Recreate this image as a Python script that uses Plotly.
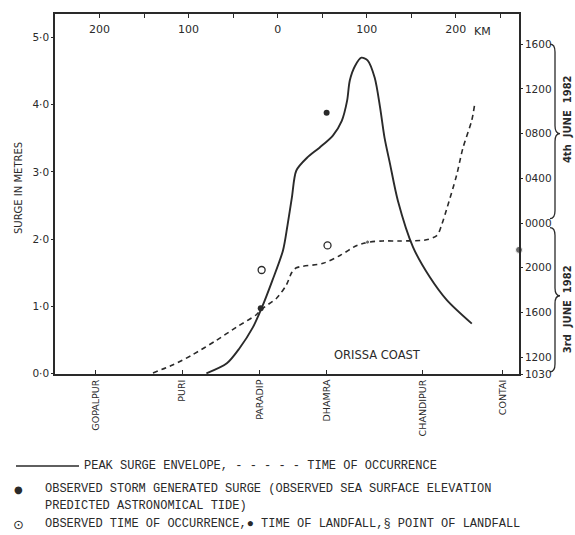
import plotly.graph_objects as go

# ---------------- data ----------------
# Peak surge envelope: distance along coast (km, landfall = 0) vs surge (m)
surge_km = [-80, -57, -43, -28, -18, -6, 6, 11, 16, 21, 33, 47, 62, 72, 78, 81, 87, 94,
            101, 109, 115, 120, 126, 135, 152, 171, 190, 218]
surge_m = [0.0, 0.15, 0.37, 0.68, 0.97, 1.38, 1.83, 2.2, 2.62, 3.02, 3.21, 3.36, 3.54, 3.76,
           4.06, 4.36, 4.58, 4.70, 4.66, 4.40, 3.96, 3.51, 3.13, 2.57, 1.88, 1.43, 1.09, 0.74]

# Time of occurrence (hours counted from 0000 of 3rd June 1982)
time_km = [-140, -118, -96, -69, -46, -24, -18, -1, 10, 16, 21, 51, 70, 89, 103, 118, 137,
           167, 179, 184, 190, 201, 208, 218, 221]
time_h = [10.6, 11.3, 12.2, 13.5, 14.7, 15.8, 16.3, 17.3, 18.5, 19.6, 20.0, 20.4, 21.1, 22.0,
          22.3, 22.4, 22.4, 22.5, 22.9, 23.8, 25.3, 28.3, 30.7, 33.2, 34.5]

obs_surge_km = [-19, 55]
obs_surge_m = [0.97, 3.88]
obs_time_km = [-18, 56]
obs_time_h = [19.8, 22.0]
landfall_time_km = [101, 271]
landfall_time_h = [22.3, 21.6]
landfall_point_km = 0

place_km = [-204, -107, -20, 55, 163, 253]
place_names = ["GOPALPUR", "PURI", "PARADIP", "DHAMRA", "CHANDIPUR", "CONTAI"]

dist_tickvals = [-200, -150, -100, -50, 0, 50, 100, 150, 200, 250]
dist_ticktext = ["200", "", "100", "", "0", "", "100", "", "200", ""]
dist_unit = "KM"

time_tickvals = [10.5, 12, 16, 20, 24, 28, 32, 36, 40]
time_ticktext = ["1030", "1200", "1600", "2000", "0000", "0400", "0800", "1200", "1600"]

surge_tickvals = [0, 1, 2, 3, 4, 5]
surge_ticktext = ["0·0", "1·0", "2·0", "3·0", "4·0", "5·0"]

X_RANGE = [-250, 271]
Y_RANGE = [-0.01, 5.35]
Y2_RANGE = [10.5, 42.7]

INK = "#2a2a2a"
FONT = "DejaVu Sans"
MONO = "Liberation Mono"

W, H = 575, 535
PLOT_L, PLOT_R, PLOT_T, PLOT_B = 55, 519, 14, 374   # page pixels of plot area

fig = go.Figure()

fig.add_trace(go.Scatter(x=surge_km, y=surge_m, mode="lines",
                         line=dict(color=INK, width=1.9, shape="spline", smoothing=0.8),
                         xaxis="x", yaxis="y", showlegend=False, hoverinfo="skip"))
fig.add_trace(go.Scatter(x=time_km, y=time_h, mode="lines",
                         line=dict(color=INK, width=1.6, dash="5px,4px", shape="spline",
                                   smoothing=0.8),
                         xaxis="x", yaxis="y2", showlegend=False, hoverinfo="skip"))
fig.add_trace(go.Scatter(x=obs_surge_km, y=obs_surge_m, mode="markers",
                         marker=dict(symbol="circle", size=6, color=INK),
                         xaxis="x", yaxis="y", showlegend=False))
fig.add_trace(go.Scatter(x=obs_time_km, y=obs_time_h, mode="markers",
                         marker=dict(symbol="circle-open", size=7, color=INK,
                                     line=dict(width=1.3, color=INK)),
                         xaxis="x", yaxis="y2", showlegend=False))
fig.add_trace(go.Scatter(x=landfall_time_km, y=landfall_time_h, mode="markers",
                         marker=dict(symbol="circle", size=[4, 7], color=INK),
                         cliponaxis=False,
                         xaxis="x", yaxis="y2", showlegend=False))
# invisible trace to carry the top distance axis
fig.add_trace(go.Scatter(x=X_RANGE, y=[None, None], mode="markers", xaxis="x2", yaxis="y",
                         showlegend=False, hoverinfo="skip"))

axis_common = dict(showline=True, linecolor=INK, linewidth=1.6, showgrid=False,
                   zeroline=False, tickcolor=INK, automargin=False)

fig.update_layout(
    width=W, height=H,
    margin=dict(l=PLOT_L, r=W - PLOT_R, t=PLOT_T, b=H - PLOT_B, autoexpand=False),
    paper_bgcolor="white", plot_bgcolor="white",
    font=dict(family=FONT, color=INK, size=10),
    xaxis=dict(range=X_RANGE, tickmode="array", tickvals=place_km, ticktext=place_names,
               tickangle=-90, ticks="inside", ticklen=4, tickwidth=1.2,
               tickfont=dict(size=9.5, family=FONT, color=INK), **axis_common),
    xaxis2=dict(range=X_RANGE, overlaying="x", side="top", tickmode="array",
                tickvals=dist_tickvals, ticktext=dist_ticktext, ticks="inside", ticklen=4,
                tickwidth=1.2, ticklabelposition="inside", ticklabelstandoff=7,
                tickfont=dict(size=11, family=FONT, color=INK), **axis_common),
    yaxis=dict(range=Y_RANGE, tickmode="array", tickvals=surge_tickvals,
               ticktext=surge_ticktext, ticks="outside", ticklen=2, tickwidth=1.2,
               tickfont=dict(size=10.5, family=FONT, color=INK), **axis_common),
    yaxis2=dict(range=Y2_RANGE, overlaying="y", side="right", tickmode="array",
                tickvals=time_tickvals, ticktext=time_ticktext, ticks="outside", ticklen=2,
                tickwidth=1.2, tickfont=dict(size=10.5, family=FONT, color=INK),
                **axis_common),
)

PLOT_W = PLOT_R - PLOT_L
PLOT_H = PLOT_B - PLOT_T


def px(xp):
    return (xp - PLOT_L) / PLOT_W


def py(yp):
    return (PLOT_B - yp) / PLOT_H


# unit for top distance axis
fig.add_annotation(text=dist_unit, xref="paper", yref="paper", x=px(472), y=py(31),
                   xanchor="left", yanchor="middle", showarrow=False,
                   font=dict(size=11, family=FONT, color=INK))
# y-axis title
fig.add_annotation(text="SURGE IN METRES", xref="paper", yref="paper", x=px(19), y=py(188),
                   xanchor="center", yanchor="middle",
                   textangle=-90, showarrow=False, font=dict(size=10, family=FONT, color=INK))
# map label
fig.add_annotation(text="ORISSA COAST", xref="x", yref="y", x=112, y=0.27, showarrow=False,
                   xanchor="center", yanchor="middle",
                   font=dict(size=11.5, family=FONT, color=INK))
# point of landfall
fig.add_annotation(text="§", xref="x", yref="y", x=landfall_point_km, y=-0.03,
                   xanchor="center", yanchor="middle",
                   showarrow=False, font=dict(size=12, family=FONT, color=INK))


# braces for dates on the right (x in paper units, y in time axis)
def brace(y_bot, y_top, y_mid, x0=px(550), x1=px(555), x2=px(560), d=0.7):
    return (f"M {x0},{y_top} Q {x1},{y_top} {x1},{y_top - d} "
            f"L {x1},{y_mid + d} Q {x1},{y_mid} {x2},{y_mid} "
            f"Q {x1},{y_mid} {x1},{y_mid - d} "
            f"L {x1},{y_bot + d} Q {x1},{y_bot} {x0},{y_bot}")


fig.add_shape(type="path", xref="paper", yref="y2", path=brace(24.4, 40, 32),
              line=dict(color=INK, width=1.3))
fig.add_shape(type="path", xref="paper", yref="y2", path=brace(10.7, 23.6, 17.5),
              line=dict(color=INK, width=1.3))
fig.add_annotation(text="<b>4th  JUNE  1982</b>", xref="paper", yref="y2", x=px(567), y=33.3,
                   xanchor="center", yanchor="middle",
                   textangle=-90, showarrow=False, font=dict(size=10, family=FONT, color=INK))
fig.add_annotation(text="<b>3rd  JUNE  1982</b>", xref="paper", yref="y2", x=px(567), y=16.3,
                   xanchor="center", yanchor="middle",
                   textangle=-90, showarrow=False, font=dict(size=10, family=FONT, color=INK))

# ---- caption text below the chart ----
cap_font = dict(size=12, family=MONO, color=INK)
fig.add_shape(type="line", xref="paper", yref="paper", x0=px(16), x1=px(79),
              y0=py(466), y1=py(466), line=dict(color=INK, width=1.4))
fig.add_annotation(text="PEAK SURGE ENVELOPE, - - - - - TIME OF OCCURRENCE", xref="paper",
                   yref="paper", x=px(82), y=py(466), xanchor="left", yanchor="middle",
                   showarrow=False, font=cap_font)
fig.add_annotation(text="●", xref="paper", yref="paper", x=px(18), y=py(489),
                   xanchor="center", yanchor="middle",
                   showarrow=False, font=dict(size=10, family=FONT, color=INK))
fig.add_annotation(text="OBSERVED STORM GENERATED SURGE (OBSERVED SEA SURFACE ELEVATION",
                   xref="paper", yref="paper", x=px(43), y=py(489), xanchor="left",
                   yanchor="middle", showarrow=False, font=cap_font)
fig.add_annotation(text="PREDICTED ASTRONOMICAL TIDE)", xref="paper", yref="paper",
                   x=px(43), y=py(506), xanchor="left", yanchor="middle", showarrow=False,
                   font=cap_font)
fig.add_annotation(text="⊙", xref="paper", yref="paper", x=px(18), y=py(524),
                   xanchor="center", yanchor="middle",
                   showarrow=False, font=dict(size=13, family=FONT, color=INK))
fig.add_annotation(text="OBSERVED TIME OF OCCURRENCE,● TIME OF LANDFALL,§ POINT OF LANDFALL",
                   xref="paper", yref="paper", x=px(43), y=py(524), xanchor="left",
                   yanchor="middle", showarrow=False, font=cap_font)

# remove the browser's default page margin so the figure fills the 575x535 window
fig.write_html("out.html", config={"displayModeBar": False},
               post_script="document.body.style.margin='0';"
                           "document.body.style.overflow='hidden';")
